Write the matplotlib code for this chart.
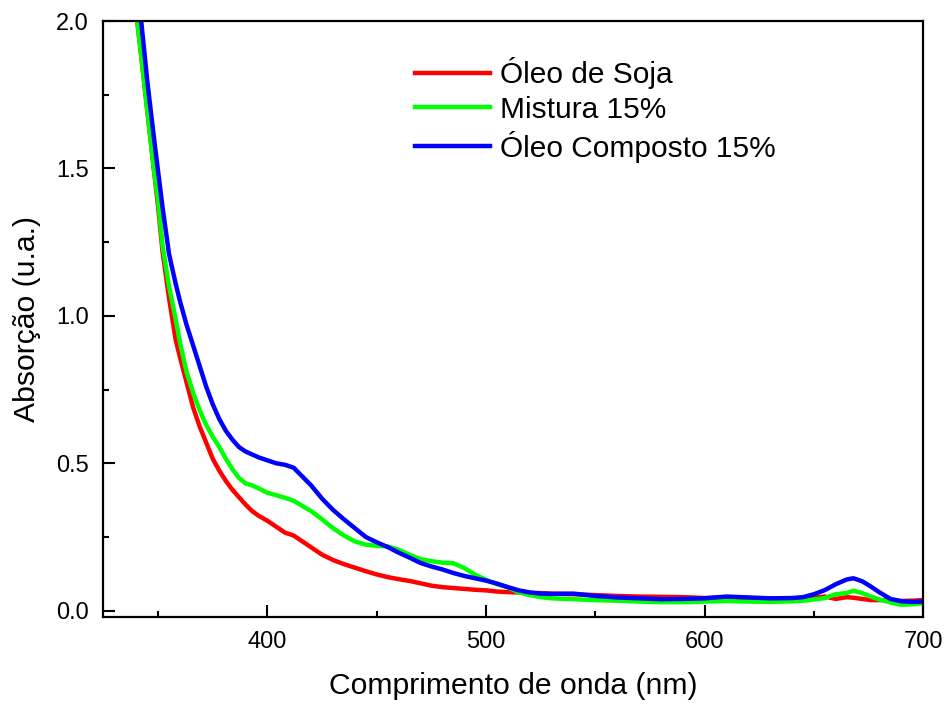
import matplotlib
matplotlib.use("Agg")
import matplotlib.pyplot as plt
from matplotlib.ticker import MultipleLocator

plt.rcParams['font.family'] = ['Liberation Sans', 'DejaVu Sans']

wavelength = [338, 340, 342, 345, 348, 350, 352, 355, 358, 360, 363, 366, 369, 372, 375,
              378, 381, 384, 387, 390, 393, 396, 400, 404, 408, 412, 416, 420, 425, 430,
              435, 440, 445, 450, 455, 460, 465, 470, 475, 480, 485, 490, 495, 500, 505,
              510, 515, 520, 525, 530, 540, 550, 560, 570, 580, 590, 600, 610, 620, 630,
              640, 645, 650, 655, 660, 665, 668, 672, 676, 680, 685, 690, 695, 700]

oleo_soja = [2.2, 2.03, 1.9, 1.7, 1.5, 1.37, 1.22, 1.06, 0.92, 0.86, 0.775, 0.69, 0.625, 0.57, 0.515,
             0.475, 0.44, 0.41, 0.385, 0.36, 0.338, 0.322, 0.305, 0.285, 0.265, 0.255, 0.235, 0.215, 0.19, 0.172,
             0.158, 0.146, 0.134, 0.123, 0.114, 0.107, 0.101, 0.093, 0.085, 0.08, 0.077, 0.074, 0.071, 0.069, 0.065,
             0.063, 0.062, 0.06, 0.06, 0.058, 0.056, 0.053, 0.05, 0.048, 0.047, 0.046, 0.043, 0.045, 0.043, 0.04,
             0.04, 0.042, 0.044, 0.048, 0.04, 0.046, 0.044, 0.04, 0.036, 0.036, 0.035, 0.033, 0.034, 0.036]

mistura = [2.2, 2.03, 1.9, 1.7, 1.5, 1.39, 1.24, 1.1, 0.99, 0.91, 0.81, 0.74, 0.68, 0.63, 0.59,
           0.555, 0.515, 0.48, 0.45, 0.432, 0.425, 0.415, 0.40, 0.392, 0.383, 0.373, 0.355, 0.338, 0.31, 0.28,
           0.255, 0.235, 0.224, 0.22, 0.218, 0.207, 0.19, 0.175, 0.168, 0.163, 0.161, 0.145, 0.122, 0.105, 0.09,
           0.079, 0.062, 0.053, 0.046, 0.042, 0.039, 0.036, 0.034, 0.031, 0.029, 0.029, 0.031, 0.033, 0.031, 0.030,
           0.032, 0.034, 0.038, 0.043, 0.056, 0.06, 0.068, 0.06, 0.048, 0.038, 0.028, 0.02, 0.022, 0.025]

oleo_composto = [2.25, 2.13, 2.02, 1.80, 1.61, 1.49, 1.37, 1.21, 1.11, 1.05, 0.97, 0.90, 0.83, 0.76, 0.70,
                 0.65, 0.61, 0.58, 0.555, 0.54, 0.53, 0.52, 0.51, 0.50, 0.495, 0.485, 0.455, 0.425, 0.38, 0.342,
                 0.31, 0.28, 0.25, 0.232, 0.216, 0.197, 0.18, 0.162, 0.15, 0.14, 0.128, 0.118, 0.11, 0.102, 0.092,
                 0.08, 0.069, 0.062, 0.058, 0.057, 0.058, 0.05, 0.045, 0.042, 0.039, 0.04, 0.042, 0.048, 0.045, 0.042,
                 0.043, 0.046, 0.056, 0.07, 0.09, 0.106, 0.11, 0.1, 0.082, 0.062, 0.04, 0.032, 0.03, 0.031]

series_labels = ['Óleo de Soja', 'Mistura 15%', 'Óleo Composto 15%']
series_colors = ['#ff0000', '#00ff00', '#0000ff']

fig = plt.figure(figsize=(9.48, 7.04), dpi=100)
ax = fig.add_axes([103/948, 1-616.7/704, (923.3-103)/948, (616.7-21)/704])

for vals, lab, col in zip([oleo_soja, mistura, oleo_composto], series_labels, series_colors):
    ax.plot(wavelength, vals, color=col, lw=3.2, label=lab)

ax.set_xlim(324.8, 700)
ax.set_ylim(-0.0203, 2.0)
ax.xaxis.set_major_locator(MultipleLocator(100))
ax.xaxis.set_minor_locator(MultipleLocator(50))
ax.yaxis.set_major_locator(MultipleLocator(0.5))
ax.yaxis.set_minor_locator(MultipleLocator(0.25))
ax.yaxis.set_major_formatter(matplotlib.ticker.FormatStrFormatter('%.1f'))
ax.set_xticks([400, 500, 600, 700])
ax.tick_params(which='both', direction='in', top=False, right=False, width=1.5, labelsize=17)
ax.tick_params(which='major', length=8.6, pad=10)
ax.tick_params(which='minor', length=4.3)
for s in ax.spines.values():
    s.set_linewidth(1.6)

ax.set_xlabel('Comprimento de onda (nm)', fontsize=21.7, labelpad=14)
ax.set_ylabel('Absorção (u.a.)', fontsize=21.7, labelpad=11)

leg = ax.legend(loc='upper left', bbox_to_anchor=(415/948, 1-57/704), bbox_transform=fig.transFigure,
                frameon=False, fontsize=21.5, handlelength=2.5, handletextpad=0.33,
                labelspacing=0.23, borderpad=0, borderaxespad=0)

fig.savefig('out.png', dpi=100)
